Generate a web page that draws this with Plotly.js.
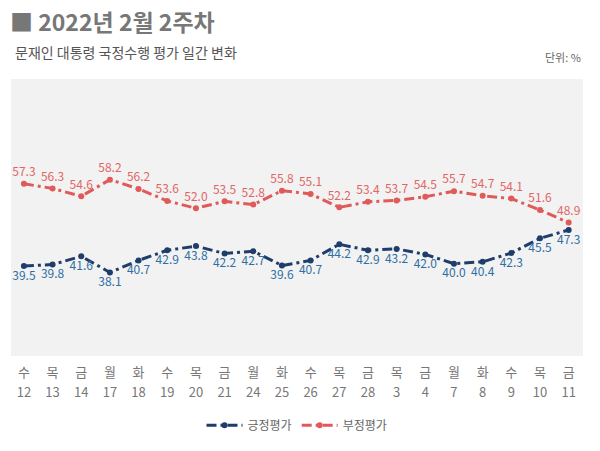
<!DOCTYPE html>
<html><head><meta charset="utf-8">
<script src="https://cdn.plot.ly/plotly-3.0.1.min.js"></script>
<style>body{margin:0;background:#fff}#c{width:600px;height:451px}</style>
</head><body><div id="c"></div>
<script>
const days = ["수","목","금","월","화","수","목","금","월","화","수","목","금","목","금","월","화","수","목","금"];
const dates = ["12","13","14","17","18","19","20","21","24","25","26","27","28","3","4","7","8","9","10","11"];
const positive = [39.5,39.8,41.6,38.1,40.7,42.9,43.8,42.2,42.7,39.6,40.7,44.2,42.9,43.2,42.0,40.0,40.4,42.3,45.5,47.3];
const negative = [57.3,56.3,54.6,58.2,56.2,53.6,52.0,53.5,52.8,55.8,55.1,52.2,53.4,53.7,54.5,55.7,54.7,54.1,51.6,48.9];
const xs = days.map((d,i)=>i);
const F = "Noto Sans CJK KR, Noto Sans, sans-serif";
const traces = [
 {x:xs,y:positive,name:"긍정평가",mode:"lines+markers+text",text:positive.map(v=>v.toFixed(1)),
  textposition:"bottom center",textfont:{color:"#2f6ea3",size:12,family:F},
  line:{color:"#1f3d6b",width:3,dash:"10px,4px,3px,4px"},marker:{color:"#1f3d6b",size:6},cliponaxis:false},
 {x:xs,y:negative,name:"부정평가",mode:"lines+markers+text",text:negative.map(v=>v.toFixed(1)),
  textposition:"top center",textfont:{color:"#e06666",size:12,family:F},
  line:{color:"#e05a5a",width:3,dash:"10px,4px,3px,4px"},marker:{color:"#e05a5a",size:6},cliponaxis:false},
 {x:xs,y:positive,xaxis:"x2",mode:"none",showlegend:false,hoverinfo:"skip"}
];
const axBase = {range:[-0.45,19.5],tickvals:xs,showgrid:false,zeroline:false,showline:false,ticks:"",
   tickfont:{size:13,color:"#777",family:F},fixedrange:true};
const layout = {
 width:600,height:451,margin:{l:11,r:17,t:79,b:93},
 paper_bgcolor:"#fff",plot_bgcolor:"#f2f2f2",
 font:{family:F,color:"#666"},
 xaxis:Object.assign({},axBase,{ticktext:days,ticklabelstandoff:7}),
 xaxis2:Object.assign({},axBase,{ticktext:dates,overlaying:"x",side:"bottom",anchor:"y",ticklabelstandoff:27}),
 yaxis:{range:[20,80],showgrid:false,zeroline:false,showticklabels:false,showline:false},
 showlegend:true,
 legend:{orientation:"h",x:0.5,xanchor:"center",y:-0.25,yanchor:"middle",font:{size:12,color:"#666",family:F},itemwidth:36},
 annotations:[
  {text:"<b>■ 2022년 2월 2주차</b>",xref:"paper",yref:"paper",x:-0.006,xanchor:"left",y:1.211,yanchor:"middle",showarrow:false,font:{size:23,color:"#777",family:F}},
  {text:"문재인 대통령 국정수행 평가 일간 변화",xref:"paper",yref:"paper",x:0.003,xanchor:"left",y:1.097,yanchor:"middle",showarrow:false,font:{size:14,color:"#555",family:F}},
  {text:"단위: %",xref:"paper",yref:"paper",x:1.0,xanchor:"right",y:1.079,yanchor:"middle",showarrow:false,font:{size:11,color:"#666",family:F}}
 ]
};
Plotly.newPlot("c",traces,layout,{displayModeBar:false,staticPlot:true});
</script></body></html>
